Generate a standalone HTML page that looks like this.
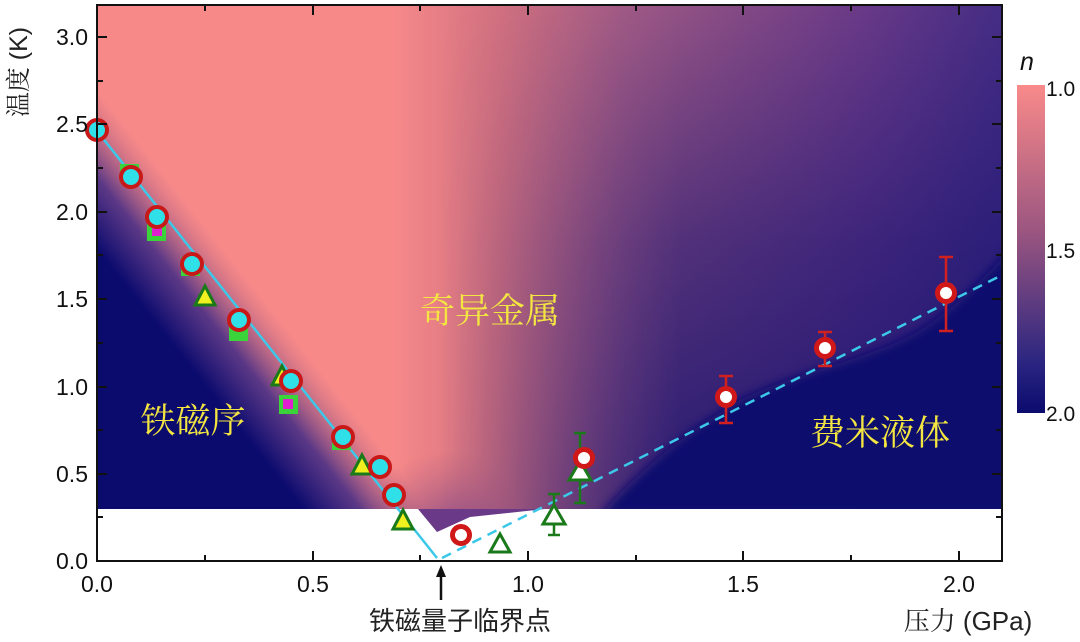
<!DOCTYPE html>
<html><head><meta charset="utf-8"><style>
body{margin:0;background:#fff;}
svg text{font-family:"Liberation Sans","Noto Sans CJK SC",sans-serif;}
svg text.sf{font-family:"Liberation Serif","Noto Serif CJK SC",serif;}
svg text.ax{font-family:"Liberation Sans","Noto Serif CJK SC",serif;}
</style></head><body>
<svg width="1080" height="637" xmlns="http://www.w3.org/2000/svg">
<defs>
<linearGradient id="top" x1="392" y1="0" x2="1002" y2="0" gradientUnits="userSpaceOnUse">
<stop offset="0" stop-color="#f78989"/><stop offset="0.18" stop-color="#d07080"/>
<stop offset="0.377" stop-color="#a05a85"/><stop offset="0.572" stop-color="#844a85"/>
<stop offset="0.77" stop-color="#6a3a88"/><stop offset="0.967" stop-color="#4a2f85"/><stop offset="1" stop-color="#462d85"/></linearGradient>
<linearGradient id="dk" x1="0" y1="5" x2="0" y2="509" gradientUnits="userSpaceOnUse">
<stop offset="0" stop-color="#12106e" stop-opacity="0"/>
<stop offset="0.47" stop-color="#12106e" stop-opacity="0.5"/>
<stop offset="1" stop-color="#12106e" stop-opacity="0.85"/></linearGradient>
<linearGradient id="mk" x1="440" y1="0" x2="680" y2="0" gradientUnits="userSpaceOnUse">
<stop offset="0" stop-color="#fff" stop-opacity="0"/><stop offset="1" stop-color="#fff" stop-opacity="1"/></linearGradient>
<mask id="m1"><rect x="0" y="0" width="1080" height="637" fill="url(#mk)"/></mask>
<linearGradient id="lg" x1="165" y1="335" x2="243" y2="273" gradientUnits="userSpaceOnUse">
<stop offset="0" stop-color="#0b0b6e" stop-opacity="1"/>
<stop offset="0.45" stop-color="#4a2f86" stop-opacity="0.9"/>
<stop offset="1" stop-color="#b06080" stop-opacity="0"/></linearGradient>
<radialGradient id="vg" cx="450" cy="540" r="90" gradientUnits="userSpaceOnUse">
<stop offset="0" stop-color="#6a3a88" stop-opacity="0.8"/>
<stop offset="1" stop-color="#a05580" stop-opacity="0"/></radialGradient>
<filter id="b2" x="-50%" y="-50%" width="200%" height="200%"><feGaussianBlur stdDeviation="5"/></filter>
<linearGradient id="cb" x1="0" x2="0" y1="0" y2="1">
<stop offset="0" stop-color="#f98a8a"/><stop offset="0.45" stop-color="#9a5580"/>
<stop offset="0.85" stop-color="#2a2580"/><stop offset="1" stop-color="#0b0b6e"/></linearGradient>
<clipPath id="pc"><rect x="97" y="5" width="905" height="504"/></clipPath>
</defs>
<g clip-path="url(#pc)">
<rect x="97" y="5" width="905" height="504" fill="url(#top)"/>
<rect x="97" y="5" width="905" height="504" fill="url(#dk)" mask="url(#m1)"/>
<rect x="97" y="5" width="905" height="504" fill="url(#vg)"/>
<rect x="97" y="5" width="400" height="504" fill="url(#lg)"/>
<path d="M600,515 C650,460 690,430 740,400 C800,370 870,360 920,330 C960,305 990,270 1010,250 L1010,515 Z" fill="#0b0b6e" filter="url(#b2)"/>
</g>
<rect x="97" y="509" width="905" height="52" fill="#fff"/>
<polygon points="418,509 437,532 470,517 545,509" fill="#6a3a88"/>
<line x1="97" y1="131" x2="437" y2="558" stroke="#3cc8e8" stroke-width="2.5"/>
<line x1="442" y1="558" x2="1002" y2="275" stroke="#3cc8e8" stroke-width="2.5" stroke-dasharray="10,7"/>
<g stroke="#d02020" stroke-width="2.5">
<line x1="726" y1="376" x2="726" y2="423"/><line x1="719" y1="376" x2="733" y2="376"/><line x1="719" y1="423" x2="733" y2="423"/>
<line x1="825" y1="332" x2="825" y2="366"/><line x1="818" y1="332" x2="832" y2="332"/><line x1="818" y1="366" x2="832" y2="366"/>
<line x1="946" y1="257" x2="946" y2="331"/><line x1="939" y1="257" x2="953" y2="257"/><line x1="939" y1="331" x2="953" y2="331"/>
</g>
<g stroke="#1a7a1a" stroke-width="2.5">
<line x1="554" y1="494" x2="554" y2="535"/><line x1="548" y1="494" x2="560" y2="494"/><line x1="548" y1="535" x2="560" y2="535"/>
<line x1="580" y1="433" x2="580" y2="503"/><line x1="574" y1="433" x2="586" y2="433"/><line x1="574" y1="503" x2="586" y2="503"/>
</g>
<g fill="#3ad43a">
<rect x="120" y="164" width="19" height="19"/><rect x="147" y="222" width="19" height="19"/><rect x="181" y="257" width="19" height="19"/>
<rect x="229" y="322" width="19" height="19"/><rect x="279" y="395" width="19" height="19"/><rect x="332" y="431" width="19" height="19"/>
</g>
<rect x="152" y="226" width="10" height="10" fill="#e020d0"/><rect x="283" y="399" width="10" height="10" fill="#e020d0"/>
<g fill="#f0f020" stroke="#1a7a1a" stroke-width="3">
<polygon points="205,286 195,305 215,305"/><polygon points="282,366 272,385 292,385"/>
<polygon points="362,455 352,474 372,474"/><polygon points="403,510 393,529 413,529"/>
</g>
<g fill="#fff" stroke="#1a7a1a" stroke-width="3">
<polygon points="500,534 490,552 510,552"/><polygon points="554,505 543,524 565,524"/><polygon points="580,461 569,480 591,480"/>
</g>
<g fill="#30e0e8" stroke="#c81818" stroke-width="4">
<circle cx="97" cy="130" r="10"/><circle cx="131" cy="177" r="10"/><circle cx="157" cy="217" r="10"/>
<circle cx="192" cy="264" r="10"/><circle cx="239" cy="320" r="10"/><circle cx="291" cy="381" r="10"/>
<circle cx="343" cy="437" r="10"/><circle cx="380" cy="467" r="10"/><circle cx="394" cy="495" r="10"/>
</g>
<g fill="#fff" stroke="#d01818" stroke-width="5">
<circle cx="461" cy="535" r="8.5"/><circle cx="584" cy="458" r="8.5"/><circle cx="726" cy="397" r="8.5"/>
<circle cx="825" cy="348" r="8.5"/><circle cx="946" cy="293" r="8.5"/>
</g>
<rect x="97" y="5" width="905" height="556" fill="none" stroke="#111" stroke-width="2"/>
<g stroke="#111" stroke-width="2">
<line x1="97" y1="561" x2="97" y2="551"/><line x1="205" y1="561" x2="205" y2="555"/><line x1="313" y1="561" x2="313" y2="551"/><line x1="420" y1="561" x2="420" y2="555"/>
<line x1="528" y1="561" x2="528" y2="551"/><line x1="636" y1="561" x2="636" y2="555"/><line x1="743" y1="561" x2="743" y2="551"/><line x1="851" y1="561" x2="851" y2="555"/><line x1="959" y1="561" x2="959" y2="551"/>
<line x1="205" y1="5" x2="205" y2="11"/><line x1="313" y1="5" x2="313" y2="15"/><line x1="420" y1="5" x2="420" y2="11"/><line x1="528" y1="5" x2="528" y2="15"/><line x1="636" y1="5" x2="636" y2="11"/><line x1="743" y1="5" x2="743" y2="15"/><line x1="851" y1="5" x2="851" y2="11"/><line x1="959" y1="5" x2="959" y2="15"/>
<line x1="97" y1="474" x2="107" y2="474"/><line x1="97" y1="387" x2="107" y2="387"/><line x1="97" y1="299" x2="107" y2="299"/><line x1="97" y1="212" x2="107" y2="212"/><line x1="97" y1="124" x2="107" y2="124"/><line x1="97" y1="37" x2="107" y2="37"/>
<line x1="97" y1="517" x2="103" y2="517"/><line x1="97" y1="430" x2="103" y2="430"/><line x1="97" y1="343" x2="103" y2="343"/><line x1="97" y1="255" x2="103" y2="255"/><line x1="97" y1="168" x2="103" y2="168"/><line x1="97" y1="81" x2="103" y2="81"/>
<line x1="1002" y1="517" x2="996" y2="517"/><line x1="1002" y1="474" x2="992" y2="474"/><line x1="1002" y1="430" x2="996" y2="430"/><line x1="1002" y1="387" x2="992" y2="387"/><line x1="1002" y1="343" x2="996" y2="343"/><line x1="1002" y1="299" x2="992" y2="299"/><line x1="1002" y1="255" x2="996" y2="255"/><line x1="1002" y1="212" x2="992" y2="212"/><line x1="1002" y1="168" x2="996" y2="168"/><line x1="1002" y1="124" x2="992" y2="124"/><line x1="1002" y1="81" x2="996" y2="81"/><line x1="1002" y1="37" x2="992" y2="37"/>
</g>
<g font-size="23" fill="#111" text-anchor="end">
<text x="88" y="569">0.0</text><text x="88" y="482">0.5</text><text x="88" y="395">1.0</text><text x="88" y="307">1.5</text><text x="88" y="220">2.0</text><text x="88" y="132">2.5</text><text x="88" y="45">3.0</text>
</g>
<g font-size="23" fill="#111" text-anchor="middle">
<text x="97" y="592">0.0</text><text x="313" y="592">0.5</text><text x="528" y="592">1.0</text><text x="743" y="592">1.5</text><text x="959" y="592">2.0</text>
</g>
<text class="ax" transform="translate(27,72) rotate(-90)" font-size="25" fill="#222" text-anchor="middle">温度 (K)</text>
<text x="460" y="630" font-size="26" fill="#222" text-anchor="middle">铁磁量子临界点</text>
<text class="ax" x="968" y="630" font-size="26" fill="#222" text-anchor="middle">压力 (GPa)</text>
<line x1="441" y1="600" x2="441" y2="572" stroke="#111" stroke-width="2.5"/><polygon points="441,565 436,577 446,577" fill="#111"/>
<g font-size="35" fill="#f4e640">
<text class="sf" x="490" y="323" text-anchor="middle">奇异金属</text>
<text class="sf" x="193" y="433" text-anchor="middle">铁磁序</text>
<text class="sf" x="880" y="445" text-anchor="middle">费米液体</text>
</g>
<rect x="1017" y="85" width="28" height="328" fill="url(#cb)"/>
<g font-size="21" fill="#111">
<text x="1046" y="96">1.0</text><text x="1046" y="258">1.5</text><text x="1046" y="421">2.0</text>
<text x="1020" y="70" font-style="italic" font-size="25">n</text>
</g>
</svg>
</body></html>
